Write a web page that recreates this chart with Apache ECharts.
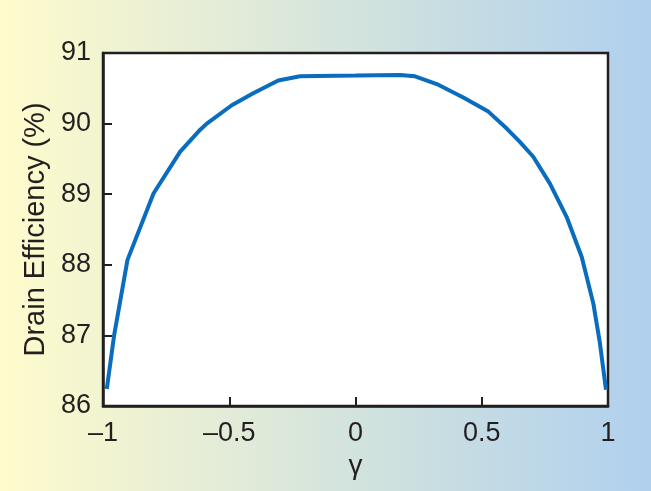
<!DOCTYPE html>
<html>
<head>
<meta charset="utf-8">
<script src="https://cdn.jsdelivr.net/npm/echarts@6/dist/echarts.min.js"></script>
<style>
html,body{margin:0;padding:0;}
#c{width:651px;height:491px;}
</style>
</head>
<body>
<div id="c"></div>
<script>
const gammaValues = [-0.985, -0.956, -0.903, -0.8, -0.695, -0.616, -0.589, -0.49, -0.405, -0.306, -0.22, 0, 0.176, 0.236, 0.322, 0.427, 0.526, 0.599, 0.651, 0.704, 0.77, 0.836, 0.896, 0.942, 0.968, 0.992];
const efficiency = [86.24, 87.0, 88.07, 89.01, 89.6, 89.91, 90.0, 90.26, 90.43, 90.61, 90.67, 90.68, 90.69, 90.67, 90.56, 90.37, 90.17, 89.93, 89.74, 89.53, 89.15, 88.68, 88.11, 87.45, 86.89, 86.23];
const xTicks = [-1, -0.5, 0, 0.5, 1];
const yTicks = [86, 87, 88, 89, 90, 91];

const ink = '#231f20';
const font = 'Liberation Sans, Arial, sans-serif';
const chart = echarts.init(document.getElementById('c'), null, {renderer: 'canvas'});
chart.setOption({
  backgroundColor: {
    type: 'linear', x: 0, y: 0, x2: 1, y2: 0,
    colorStops: [
      {offset: 0, color: '#fffbcc'},
      {offset: 0.5, color: '#d6e5dc'},
      {offset: 1, color: '#b0d0ee'}
    ]
  },
  animation: false,
  grid: {left: 103, right: 43, top: 53, bottom: 85, show: true, backgroundColor: '#ffffff', borderColor: ink, borderWidth: 2.5},
  xAxis: {
    type: 'value', min: xTicks[0], max: xTicks[xTicks.length - 1], interval: 0.5,
    name: 'γ', nameLocation: 'middle', nameGap: 43,
    nameTextStyle: {color: ink, fontSize: 28, fontFamily: font},
    axisLine: {show: true, onZero: false, lineStyle: {color: ink, width: 2.5}},
    axisTick: {show: true, inside: true, length: 9, lineStyle: {color: ink, width: 2}},
    axisLabel: {color: ink, fontSize: 27, fontFamily: font, margin: 14,
      formatter: v => String(v).replace('-', '\u2013')},
    splitLine: {show: false}
  },
  yAxis: {
    type: 'value', min: yTicks[0], max: yTicks[yTicks.length - 1], interval: 1,
    name: 'Drain Efficiency (%)', nameLocation: 'middle', nameGap: 50,
    nameTextStyle: {color: ink, fontSize: 29, fontFamily: font},
    axisLine: {show: true, onZero: false, lineStyle: {color: ink, width: 2.5}},
    axisTick: {show: true, inside: true, length: 9, lineStyle: {color: ink, width: 2}},
    axisLabel: {color: ink, fontSize: 27, fontFamily: font, margin: 12},
    splitLine: {show: false}
  },
  series: [{
    type: 'line',
    data: gammaValues.map((g, i) => [g, efficiency[i]]),
    showSymbol: false,
    smooth: false,
    lineStyle: {color: '#0a6cbf', width: 4},
    clip: false
  }]
});
</script>
</body>
</html>
